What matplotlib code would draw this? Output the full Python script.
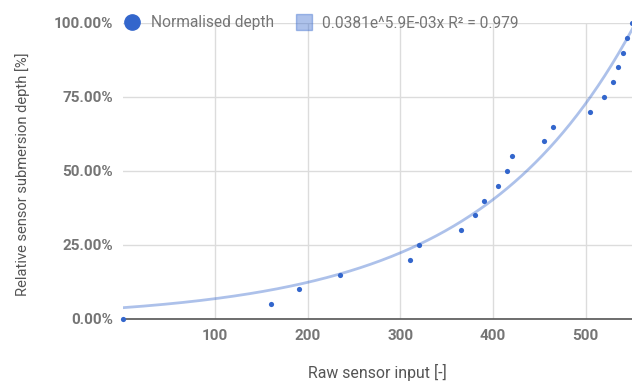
import matplotlib
matplotlib.use("Agg")
import matplotlib.pyplot as plt
import numpy as np
from matplotlib.lines import Line2D
from matplotlib.ticker import FuncFormatter

# raw sensor readings and the matching normalised depth (fraction)
sensor_input = [0, 160, 190, 235, 310, 320, 365, 380, 390, 405, 415,
                420, 455, 465, 505, 520, 530, 535, 540, 545, 550]
depth = [0.00, 0.05, 0.10, 0.15, 0.20, 0.25, 0.30, 0.35, 0.40, 0.45, 0.50,
         0.55, 0.60, 0.65, 0.70, 0.75, 0.80, 0.85, 0.90, 0.95, 1.00]

# exponential trendline coefficients from the legend
trend_a = 0.0381
trend_b = 5.9e-3
trend_label = "0.0381e^5.9E-03x R² = 0.979"
x_ticks = [100, 200, 300, 400, 500]
y_ticks = [0.0, 0.25, 0.5, 0.75, 1.0]

blue = "#3366cc"
plt.rcParams["font.family"] = ["Roboto", "DejaVu Sans"]

fig = plt.figure(figsize=(6.32, 3.81), dpi=100)
ax = fig.add_axes([122.5 / 632, 62 / 381, 509.5 / 632, 296 / 381])

xs = np.linspace(0, 560, 300)
ax.plot(xs, trend_a * np.exp(trend_b * xs), color=blue, alpha=0.4, lw=2,
        zorder=3)
ax.scatter(sensor_input, depth, s=14, color=blue, zorder=4, clip_on=False,
           linewidths=0)

ax.set_xlim(0, 550)
ax.set_ylim(0, 1)
ax.set_xticks(x_ticks)
ax.set_yticks(y_ticks)
ax.yaxis.set_major_formatter(FuncFormatter(lambda v, p: f"{v * 100:.2f}%"))
ax.grid(True, color="#dcdcdc", lw=1)
ax.set_axisbelow(True)
for side in ["top", "right", "left"]:
    ax.spines[side].set_visible(False)
ax.spines["bottom"].set_color("#555555")
ax.spines["bottom"].set_linewidth(1.2)
ax.spines["bottom"].set_zorder(2)
ax.tick_params(length=0, colors="#757575", labelsize=11)
ax.tick_params(axis="y", pad=7)
ax.tick_params(axis="x", pad=7)
for lbl in ax.get_xticklabels() + ax.get_yticklabels():
    lbl.set_fontweight("bold")

ax.set_xlabel("Raw sensor input [-]", fontsize=11.4, color="#555555",
              va="center")
ax.xaxis.set_label_coords(0.5, -0.182)
ax.set_ylabel("Relative sensor submersion depth [%]", fontsize=10.6,
              color="#555555", va="center")
ax.yaxis.set_label_coords(-0.197, 0.49)

handles = [
    Line2D([], [], ls="none", marker="o", markersize=11, color=blue),
    Line2D([], [], ls="none", marker="s", markersize=11, color=blue,
           alpha=0.4),
]
ax.legend(handles, ["Normalised depth", trend_label], ncol=2, frameon=False,
          loc="center left", bbox_to_anchor=(0.004, 1.0), fontsize=11.2,
          labelcolor="#757575", handlelength=1.0, handletextpad=0.7,
          columnspacing=1.4, borderaxespad=0, borderpad=0)

fig.savefig("out.png", dpi=100)
